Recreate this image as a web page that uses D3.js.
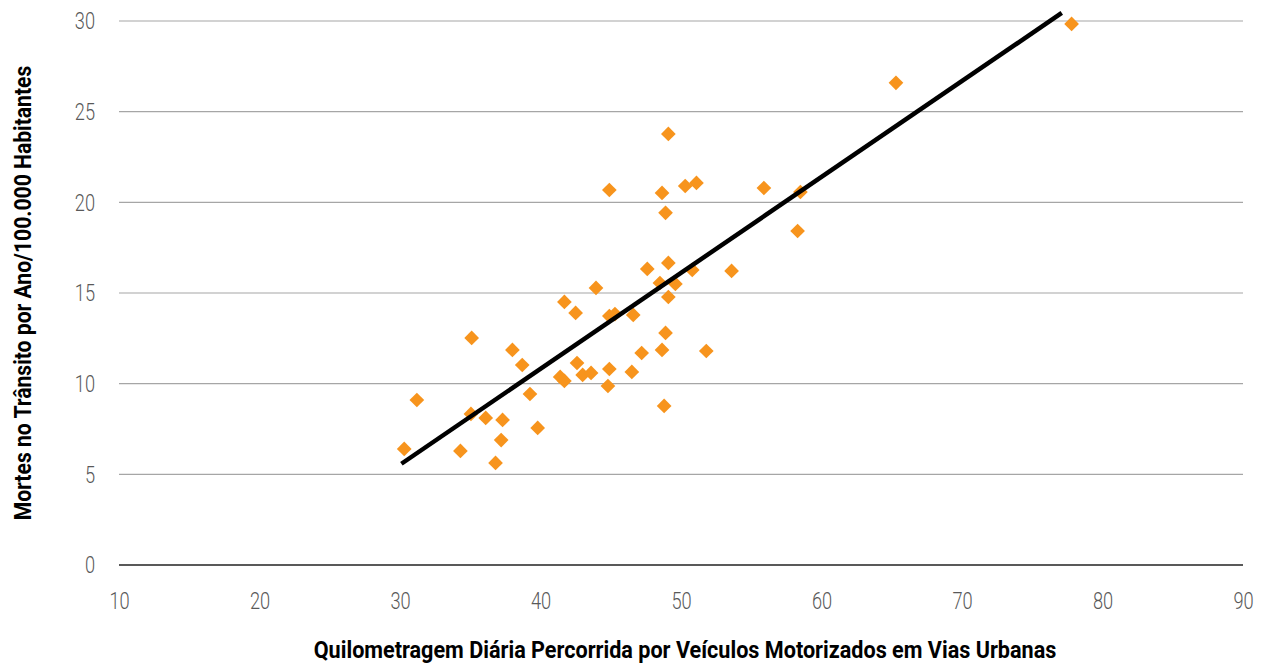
<!DOCTYPE html>
<html>
<head>
<meta charset="utf-8">
<script src="https://cdn.jsdelivr.net/npm/d3@7"></script>
<style>
  body { margin: 0; background: #fff; }
  .tick text { font-family: Roboto, sans-serif; font-weight: 300; fill: #595959; }
  .title { font-family: Roboto, sans-serif; font-weight: 700; fill: #000; }
</style>
</head>
<body>
<div id="chart"></div>
<script>
// km/day driven (x) vs road deaths per 100k (y)
const kmDaily = [30.3, 31.2, 34.3, 35.1, 35.05, 36.1, 36.8, 37.2, 37.3, 38.0,
  38.7, 39.25, 39.8, 41.4, 41.7, 41.7, 42.5, 42.6, 43.0, 43.6,
  43.95, 44.8, 44.9, 44.9, 44.9, 45.3, 46.5, 46.6, 47.2, 47.6,
  48.5, 48.65, 48.65, 48.8, 48.9, 48.9, 49.1, 49.1, 49.1, 49.6,
  50.3, 50.8, 51.1, 51.8, 53.6, 55.9, 58.3, 58.5, 65.3, 77.8];
const deaths = [6.4, 9.1, 6.29, 12.52, 8.33, 8.11, 5.63, 6.89, 8.0, 11.86,
  11.03, 9.43, 7.56, 10.37, 10.15, 14.51, 13.9, 11.14, 10.48, 10.59,
  15.28, 9.87, 10.81, 20.68, 13.73, 13.84, 10.65, 13.79, 11.69, 16.33,
  15.55, 11.86, 20.52, 8.77, 19.42, 12.8, 16.66, 23.77, 14.78, 15.5,
  20.9, 16.27, 21.07, 11.8, 16.22, 20.79, 18.42, 20.57, 26.59, 29.84];

// linear trend line
const trendSlope = 0.529;
const trendIntercept = -10.34;
const trendRange = [30.1, 77.1];

const xTicks = [10, 20, 30, 40, 50, 60, 70, 80, 90];
const yTicks = [0, 5, 10, 15, 20, 25, 30];

const width = 1266, height = 664;
const margin = { top: 21, right: 23, bottom: 99, left: 119 };

const svg = d3.select("#chart").append("svg")
  .attr("width", width)
  .attr("height", height);

const x = d3.scaleLinear().domain([10, 90]).range([margin.left, width - margin.right]);
const y = d3.scaleLinear().domain([0, 30]).range([height - margin.bottom, margin.top]);

// gridlines
svg.append("g")
  .selectAll("line")
  .data(yTicks.filter(function (d) { return d > 0; }))
  .enter()
  .append("line")
  .attr("x1", x(10))
  .attr("x2", x(90))
  .attr("y1", function (d) { return y(d); })
  .attr("y2", function (d) { return y(d); })
  .attr("stroke", "#a6a6a6")
  .attr("stroke-width", 1.2);

// y axis labels
const yAxis = svg.append("g")
  .attr("transform", "translate(" + (margin.left - 24) + ",0)")
  .call(d3.axisLeft(y).tickValues(yTicks).tickSize(0).tickPadding(0));
yAxis.select(".domain").remove();
yAxis.selectAll(".tick text")
  .style("font-size", "24px")
  .attr("transform", "scale(0.76,1)");

// baseline
svg.append("line")
  .attr("x1", x(10))
  .attr("x2", x(90))
  .attr("y1", y(0))
  .attr("y2", y(0))
  .attr("stroke", "#595959")
  .attr("stroke-width", 2.2);

// x axis labels
const xAxis = svg.append("g")
  .attr("transform", "translate(0," + (y(0) + 44) + ")")
  .call(d3.axisBottom(x).tickValues(xTicks).tickSize(0).tickPadding(0));
xAxis.select(".domain").remove();
xAxis.selectAll(".tick text")
  .style("font-size", "24px")
  .attr("dy", "0")
  .attr("transform", "scale(0.76,1)");

// points
const diamond = d3.symbol().type(d3.symbolSquare).size(108);
svg.append("g")
  .selectAll("path")
  .data(kmDaily)
  .enter()
  .append("path")
  .attr("d", diamond)
  .attr("fill", "#f7941d")
  .attr("transform", function (d, i) {
    return "translate(" + x(d) + "," + y(deaths[i]) + ") rotate(45)";
  });

// trend line
svg.append("line")
  .attr("x1", x(trendRange[0]))
  .attr("y1", y(trendSlope * trendRange[0] + trendIntercept))
  .attr("x2", x(trendRange[1]))
  .attr("y2", y(trendSlope * trendRange[1] + trendIntercept))
  .attr("stroke", "#000")
  .attr("stroke-width", 4.5);

// axis titles
svg.append("text")
  .attr("class", "title")
  .attr("text-anchor", "middle")
  .attr("transform", "translate(685,658) scale(0.9,1)")
  .style("font-size", "24px")
  .text("Quilometragem Diária Percorrida por Veículos Motorizados em Vias Urbanas");

svg.append("text")
  .attr("class", "title")
  .attr("text-anchor", "middle")
  .attr("transform", "translate(31,293) rotate(-90) scale(0.88,1)")
  .style("font-size", "24px")
  .text("Mortes no Trânsito por Ano/100.000 Habitantes");
</script>
</body>
</html>
